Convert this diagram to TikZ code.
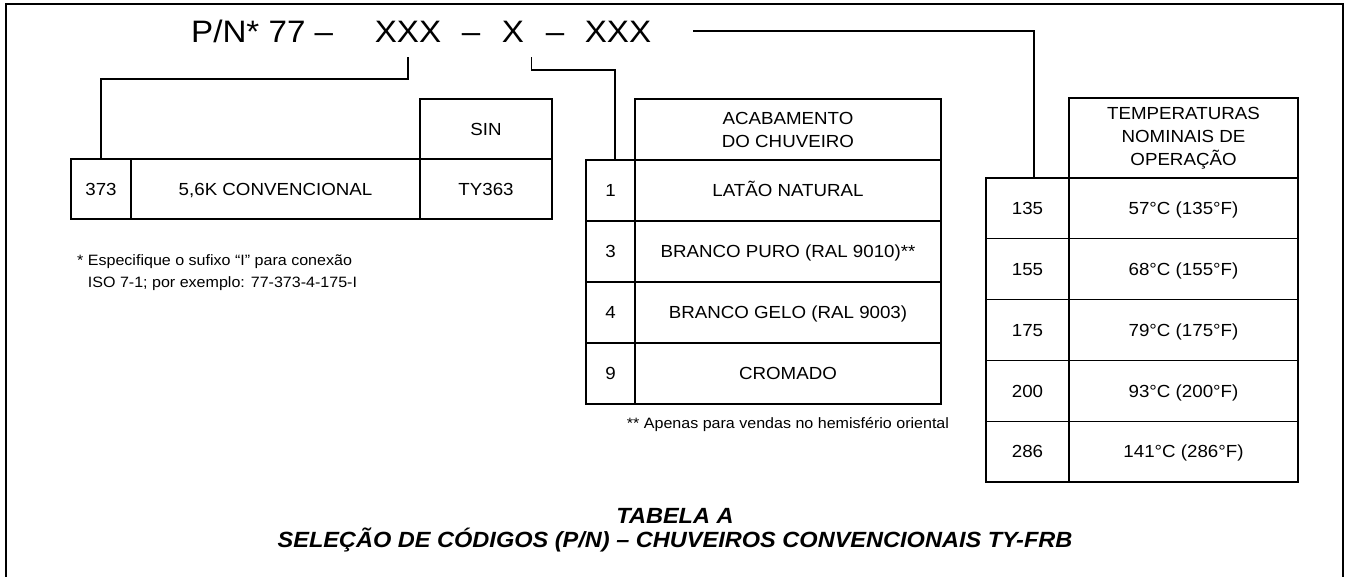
\documentclass[tikz,border=0pt]{standalone}
\usepackage{fontspec}
\setmainfont{Liberation Sans}[FakeStretch=1.07]
\usetikzlibrary{positioning}

\tikzset{
    code/.style={font=\fontsize{31}{37}\selectfont, inner xsep=0pt, inner ysep=14pt, anchor=base},
    cell/.style={draw, line width=1.4pt, anchor=north west, inner sep=0pt, outer sep=0pt,
        align=center, font=\fontsize{17.5}{23}\selectfont, minimum width=#1},
    rowtext/.style={text height=12.5pt, text depth=0pt},
    wire/.style={line width=1.4pt},
    note/.style={font=\fontsize{15}{22}\selectfont, inner sep=0pt}
}

\begin{document}
\begin{tikzpicture}[x=1pt, y=1pt]
    \useasboundingbox (0,0) rectangle (1349,-577);

    % Frame
    \draw[line width=2pt] (6,-577) -- (6,-4) -- (1343,-4) -- (1343,-577);

    % Part number
    \node[code, anchor=base west] (pn) at (191,-43) {P/N* 77 –};
    \node[code] (xxxa) at (408,-43) {XXX};
    \node[code] (da) at (471,-43) {–};
    \node[code] (xb) at (513,-43) {X};
    \node[code] (db) at (555,-43) {–};
    \node[code] (xxxc) at (618,-43) {XXX};
    \coordinate (lead) at (693,-31);

    % Sprinkler table
    \node[cell=132pt, minimum height=60pt, rowtext] (sin) at (420,-99) {SIN};
    \node[cell=60pt, minimum height=60pt, rowtext] (c373) at (71,-159) {373};
    \node[cell=289pt, minimum height=60pt, rowtext] (conv) at (131,-159) {5,6K CONVENCIONAL};
    \node[cell=132pt, minimum height=60pt, rowtext] (ty) at (420,-159) {TY363};
    \node[note, anchor=north west, align=left] (nota) at (77,-254)
        {*\ Especifique o sufixo “I” para conexão\\\phantom{*\ }ISO 7-1; por exemplo: 77-373-4-175-I};

    % Finish table
    \node[cell=306pt, minimum height=61pt] (acab) at (635,-99) {ACABAMENTO\\DO CHUVEIRO};
    \foreach \code/\finish [count=\i from 0] in {1/LATÃO NATURAL, 3/BRANCO PURO (RAL 9010)**,
        4/BRANCO GELO (RAL 9003), 9/CROMADO} {
        \node[cell=49pt, minimum height=61pt, rowtext] (f\code) at (586,-160-61*\i) {\code};
        \node[cell=306pt, minimum height=61pt, rowtext] (fn\code) at (635,-160-61*\i) {\finish};
    }
    \node[note] (notb) at (788,-425) {** Apenas para vendas no hemisfério oriental};

    % Temperature table
    \node[cell=229pt, minimum height=80pt] (temp) at (1069,-98) {TEMPERATURAS\\NOMINAIS DE\\OPERAÇÃO};
    \foreach \code/\rating [count=\i from 0] in {135/57°C (135°F), 155/68°C (155°F),
        175/79°C (175°F), 200/93°C (200°F), 286/141°C (286°F)} {
        \node[cell=83pt, minimum height=60.8pt, rowtext] (t\code) at (986,-178-60.8*\i) {\code};
        \node[cell=229pt, minimum height=60.8pt, rowtext] (tn\code) at (1069,-178-60.8*\i) {\rating};
    }

    % Leaders
    \draw[wire] (xxxa.south) -- ++(0,-22) -| (c373.north);
    \draw[wire] ([xshift=7pt]xb.south east) -- ++(0,-13) -| ([xshift=4.5pt]f1.north);
    \draw[wire] (lead) -| ([xshift=6.5pt]t135.north);

    % Caption
    \node[font=\fontsize{22}{23.5}\selectfont\bfseries\itshape, align=center] (cap) at (675,-530)
        {TABELA A\\SELEÇÃO DE CÓDIGOS (P/N) – CHUVEIROS CONVENCIONAIS TY-FRB};
\end{tikzpicture}
\end{document}
